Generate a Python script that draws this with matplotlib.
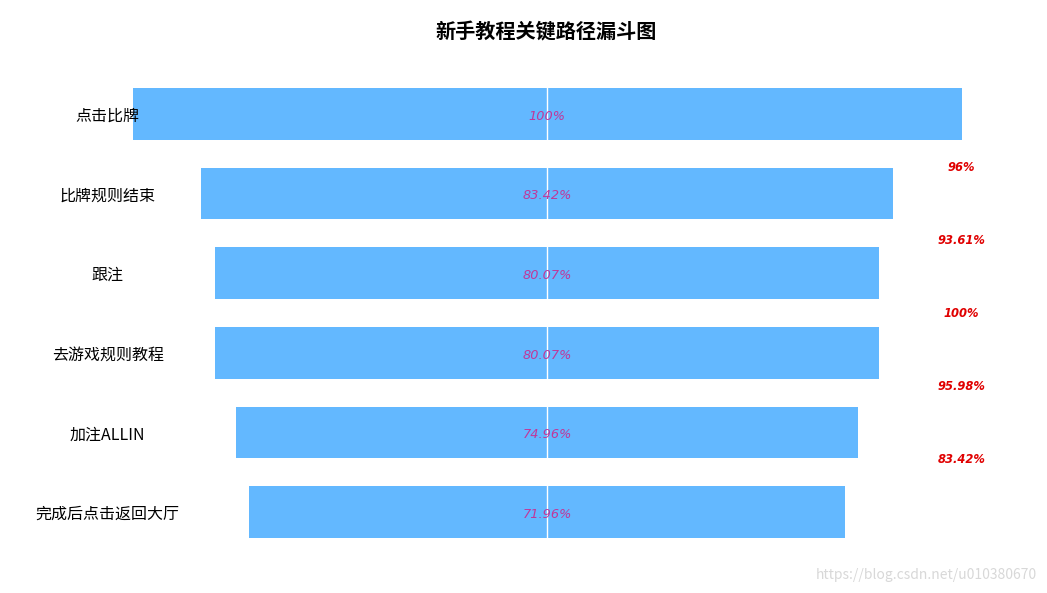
import numpy as np
import matplotlib.pyplot as plt

plt.rcParams['font.family'] = ['Noto Sans CJK SC', 'DejaVu Sans']

# funnel data
steps = ['点击比牌', '比牌规则结束', '跟注', '去游戏规则教程', '加注ALLIN', '完成后点击返回大厅']
rates = [100, 83.42, 80.07, 80.07, 74.96, 71.96]
rate_labels = ['100%', '83.42%', '80.07%', '80.07%', '74.96%', '71.96%']
conv_labels = ['96%', '93.61%', '100%', '95.98%', '83.42%']

fig = plt.figure(figsize=(10.47, 5.93), dpi=100)
ax = fig.add_axes([0, 0, 1, 1])

y = np.arange(len(steps))
widths = np.array(rates)
ax.barh(y, widths, left=-widths / 2, height=0.65, color='#63b8ff')
ax.axvline(0, ymin=0.085, ymax=0.89, color='white', lw=1)

num_font = ['DejaVu Sans', 'Noto Sans CJK SC']

for i in range(len(steps)):
    ax.text(-53, y[i] + 0.03, steps[i], ha='center', va='center', fontsize=11.5,
            style='italic', color='black')
    ax.text(0, y[i] + 0.03, rate_labels[i], ha='center', va='center', fontsize=9.3,
            style='italic', color='#c0379a', family=num_font)

conv_y = 0.678 + 0.917 * np.arange(len(conv_labels))
for i in range(len(conv_labels)):
    ax.text(50, conv_y[i], conv_labels[i], ha='center', va='center', fontsize=8.3,
            style='italic', fontweight='bold', color='#e00000', family=num_font)

ax.set_xlim(-66.0, 60.3)
ax.set_ylim(6.018, -1.432)
ax.axis('off')

fig.text(0.522, 0.946, '新手教程关键路径漏斗图', ha='center', va='center',
         fontsize=14.5, fontweight='bold')
fig.text(0.99, 0.03, 'https://blog.csdn.net/u010380670', ha='right', va='center',
         fontsize=10, color='#d8d8d8')

fig.savefig('out.png', dpi=100)
